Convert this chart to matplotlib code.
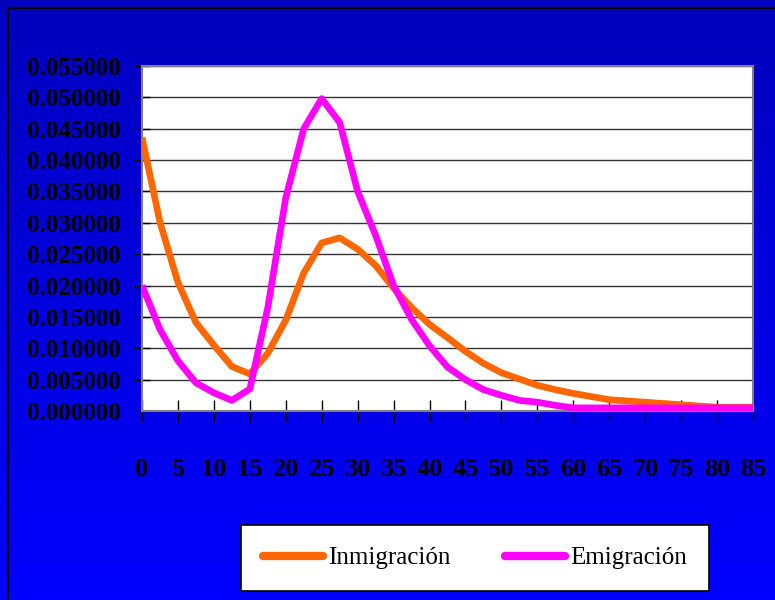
import numpy as np
import matplotlib as mpl
import matplotlib.pyplot as plt
from matplotlib.lines import Line2D

# ages (x axis)
edad = [0, 2.5, 5, 7.5, 10, 12.5, 15, 17.5, 20, 22.5, 25, 27.5, 30, 32.5, 35,
        37.5, 40, 42.5, 45, 47.5, 50, 52.5, 55, 57.5, 60, 62.5, 65, 67.5, 70,
        72.5, 75, 77.5, 80, 82.5, 85]

inmigracion = [0.0436, 0.0301, 0.0205, 0.0141, 0.0105, 0.0071, 0.0059, 0.0092,
               0.0145, 0.0220, 0.0268, 0.0276, 0.0258, 0.0232, 0.0196, 0.0165,
               0.0138, 0.0117, 0.0095, 0.0076, 0.0061, 0.0051, 0.0041, 0.0034,
               0.0028, 0.0023, 0.0018, 0.0016, 0.0014, 0.0012, 0.0010, 0.0008,
               0.0006, 0.0006, 0.0006]

emigracion = [0.0200, 0.0130, 0.0080, 0.0045, 0.0029, 0.0017, 0.0035, 0.0165,
              0.0340, 0.0450, 0.0498, 0.0460, 0.0350, 0.0280, 0.0200, 0.0146,
              0.0104, 0.0070, 0.0050, 0.0034, 0.0025, 0.0017, 0.0014, 0.0009,
              0.0005, 0.0005, 0.0005, 0.0005, 0.0005, 0.0005, 0.0005, 0.0005,
              0.0005, 0.0005, 0.0005]

xticks = list(range(0, 90, 5))
yticks = [i * 0.005 for i in range(12)]

mpl.rcParams['font.family'] = ['Liberation Serif', 'DejaVu Serif']

fig = plt.figure(figsize=(7.75, 6), dpi=100)

# blue gradient background + black frame (top and left only visible)
bg = fig.add_axes([0, 0, 1, 1], zorder=0)
grad = np.linspace(0, 1, 256).reshape(-1, 1)
cmap = mpl.colors.LinearSegmentedColormap.from_list('bl', ['#0000BE', '#0000FF'])
bg.imshow(grad, aspect='auto', cmap=cmap, extent=[0, 1, 1, 0])
bg.plot([7.5 / 775, 1], [7.5 / 600, 7.5 / 600], color='black', lw=1.6)
bg.plot([7.5 / 775, 7.5 / 775], [7.5 / 600, 1], color='black', lw=1.6)
bg.set_xlim(0, 1)
bg.set_ylim(1, 0)
bg.axis('off')

ax = fig.add_axes([142 / 775, 1 - 411 / 600, 611 / 775, 345 / 600], zorder=1)
ax.set_facecolor('white')
ax.plot(edad, inmigracion, color='#FF6600', lw=4.8, solid_joinstyle='round',
        solid_capstyle='butt', label='Inmigración', zorder=3)
ax.plot(edad, emigracion, color='#FF00FF', lw=4.8, solid_joinstyle='round',
        solid_capstyle='butt', label='Emigración', zorder=3)

ax.set_xlim(0, 85)
ax.set_ylim(0, 0.055)
ax.set_xticks(xticks)
ax.set_xticklabels([str(v) for v in xticks])
ax.set_yticks(yticks)
ax.set_yticklabels(['%.6f' % v for v in yticks])
ax.grid(axis='y', color='#333333', lw=1)
ax.set_axisbelow(True)
for s in ax.spines.values():
    s.set_color('#808080')
    s.set_linewidth(1.5)

ax.tick_params(axis='x', direction='inout', length=16, width=1, color='black',
               pad=26, labelsize=19)
ax.tick_params(axis='y', direction='inout', length=12, width=1, color='black',
               pad=9, labelsize=18)
for lab in ax.get_xticklabels() + ax.get_yticklabels():
    lab.set_fontweight('bold')

# legend box
handles = [Line2D([], [], color='#FF6600', lw=6, solid_capstyle='round'),
           Line2D([], [], color='#FF00FF', lw=6, solid_capstyle='round')]
leg = fig.legend(handles, ['Inmigración', 'Emigración'], ncol=2,
                 loc='center', bbox_to_anchor=(475 / 775, 1 - 558 / 600),
                 fontsize=18, frameon=True, fancybox=False, edgecolor='black',
                 framealpha=1, handlelength=2.4, handletextpad=0.2,
                 columnspacing=2.2, borderpad=0.88, borderaxespad=0)
leg.get_frame().set_linewidth(1.2)

fig.savefig('out.png', dpi=100)
